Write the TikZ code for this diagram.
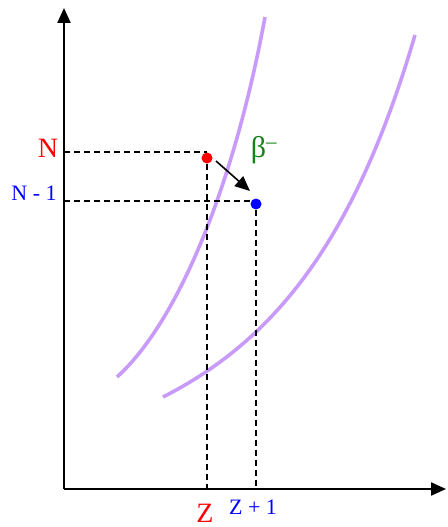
\documentclass[tikz,border=0pt]{standalone}
\usepackage{fontspec}
\setmainfont{Liberation Serif}
\usetikzlibrary{arrows.meta,positioning,calc}
\definecolor{lilac}{RGB}{200,155,250}
\definecolor{betagreen}{RGB}{20,130,20}

\begin{document}
\begin{tikzpicture}[x=1pt,y=-1pt,
		axis/.style={line width=2.2pt, -{Triangle[length=15pt,width=13pt]}},
		guide/.style={line width=1.8pt, dash pattern=on 6pt off 4pt},
		band/.style={lilac, line width=3.6pt},
		dot/.style={circle, fill=#1, inner sep=0pt, minimum size=11pt},
		lbl/.style={inner sep=0pt, text=#1}
		]
		\useasboundingbox (0,0) rectangle (447,527);
		
		% Axes
		\coordinate (O)    at (64,489);
		\coordinate (ytip) at (64,8);
		\coordinate (xtip) at (446,489);
		\draw[axis] (O) -- (ytip);
		\draw[axis] (O) -- (xtip);
		
		% Nuclide bands
		\draw[band] (117,377) .. controls (180,320) and (235,180) .. (265,17);
		\draw[band] (163,397) .. controls (275,340) and (355,240) .. (415,35);
		
		% Parent and daughter
		\node[dot=red]  (parent)   at (207,158) {};
		\node[dot=blue] (daughter) at (256,204) {};
		
		% Guide lines
		\coordinate (nN)  at (64,152);
		\coordinate (nN1) at (64,201);
		\coordinate (zZ)  at (207,489);
		\coordinate (zZ1) at (256,489);
		\draw[guide] (nN) -- (nN -| parent);
		\draw[guide] (nN1) -- (nN1 -| daughter.west);
		\draw[guide] (parent.south) -- (zZ);
		\draw[guide] (daughter.south) -- (zZ1);
		
		% Decay arrow
		\draw[line width=1.6pt, -{Triangle[length=15pt,width=13pt]}] ($(parent)+(9,3)$) -- ($(daughter)+(-6,-13)$);
		\node[lbl=betagreen, font=\fontsize{30}{32}\selectfont] (beta) at (264,150) {β\textsuperscript{–}};
		
		% Labels
		\node[lbl=red,  font=\fontsize{28}{30}\selectfont] (labN)  at (48,148)  {N};
		\node[lbl=blue, font=\fontsize{22}{24}\selectfont] (labN1) at (34,193)  {N - 1};
		\node[lbl=red,  font=\fontsize{28}{30}\selectfont] (labZ)  at (205,513) {Z};
		\node[lbl=blue, font=\fontsize{22}{24}\selectfont] (labZ1) at (253,507) {Z + 1};
	\end{tikzpicture}
\end{document}
